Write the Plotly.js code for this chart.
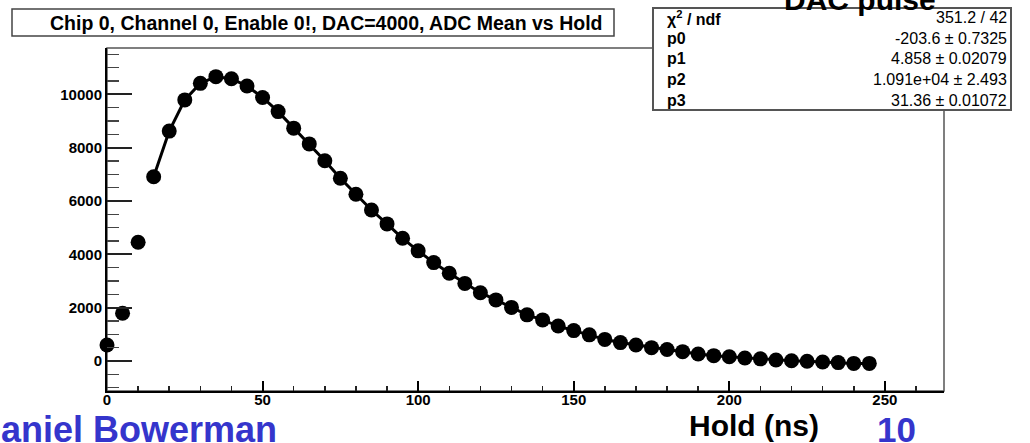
<!DOCTYPE html>
<html>
<head>
<meta charset="utf-8">
<script src="https://cdn.plot.ly/plotly-3.0.1.min.js"></script>
<style>html,body{margin:0;padding:0;background:#fff;}#chart{width:1030px;height:443px;}</style>
</head>
<body>
<div id="chart"></div>
<script>
// ---- data ----
const holdNs = [0,5,10,15,20,25,30,35,40,45,50,55,60,65,70,75,80,85,90,95,100,105,110,115,120,125,130,135,140,145,150,155,160,165,170,175,180,185,190,195,200,205,210,215,220,225,230,235,240,245];
const adcMean = [600,1790,4450,6910,8620,9790,10410,10660,10580,10310,9880,9350,8730,8140,7510,6850,6250,5660,5140,4600,4130,3690,3290,2910,2560,2290,2010,1730,1540,1310,1140,980,810,690,600,500,430,350,260,200,160,110,80,40,10,-10,-40,-60,-90,-90];
const fitStartIndex = 3; // fit curve drawn from Hold = 15 ns
const yTickVals = [0,2000,4000,6000,8000,10000];
const xTickVals = [0,50,100,150,200,250];
const titleText = "Chip 0, Channel 0, Enable 0!, DAC=4000, ADC Mean vs Hold";
const statLabels = ["χ<sup>2</sup> / ndf","p0","p1","p2","p3"];
const statValues = ["351.2 / 42","-203.6 ± 0.7325","4.858 ± 0.02079","1.091e+04 ± 2.493","31.36 ± 0.01072"];

// ---- geometry helpers (pixel -> paper) ----
const L=107, R=944, T=48, B=391, W=R-L, H=B-T;
const px = v => (v-L)/W;
const py = v => (B-v)/H;
const FONT = "Liberation Sans, Arial, Helvetica, sans-serif";

const fitTrace = {
  x: holdNs.slice(fitStartIndex), y: adcMean.slice(fitStartIndex),
  mode: 'lines', type: 'scatter', line: {color:'#000', width:3}, hoverinfo:'skip'
};
const ptsTrace = {
  x: holdNs, y: adcMean, mode: 'markers', type: 'scatter', cliponaxis:false,
  marker: {color:'#000', size:15, symbol:'circle'}
};

const annotations = [];
annotations.push({xref:'paper', yref:'paper', x:px(326), y:py(23), xanchor:'center', yanchor:'middle',
  text:titleText, showarrow:false, font:{family:FONT, size:19.5, color:'#000', weight:'bold'}});
const rowY = [18, 38.5, 59, 79.5, 100];
statLabels.forEach((s,i)=>{
  annotations.push({xref:'paper', yref:'paper', x:px(665), y:py(rowY[i]), xanchor:'left', yanchor:'middle',
    text:s, showarrow:false, font:{family:FONT, size:16, color:'#000', weight:'bold'}});
  annotations.push({xref:'paper', yref:'paper', x:px(1009), y:py(rowY[i]), xanchor:'right', yanchor:'middle',
    text:statValues[i], showarrow:false, font:{family:FONT, size:16, color:'#000'}});
});
annotations.push({xref:'paper', yref:'paper', x:px(860), y:py(-1), xanchor:'center', yanchor:'middle',
  text:'DAC pulse', showarrow:false, font:{family:FONT, size:30, color:'#000', weight:'bold'}});
annotations.push({xref:'paper', yref:'paper', x:px(-27), y:py(429), xanchor:'left', yanchor:'middle',
  text:'Daniel Bowerman', showarrow:false, font:{family:FONT, size:36, color:'#3535cc', weight:'bold'}});
annotations.push({xref:'paper', yref:'paper', x:px(754), y:py(425), xanchor:'center', yanchor:'middle',
  text:'Hold (ns)', showarrow:false, font:{family:FONT, size:30, color:'#000', weight:'bold'}});
annotations.push({xref:'paper', yref:'paper', x:px(896), y:py(429), xanchor:'center', yanchor:'middle',
  text:'10', showarrow:false, font:{family:FONT, size:35, color:'#3535cc', weight:'bold'}});

const shapes = [
  {type:'rect', xref:'paper', yref:'paper', x0:0, x1:1, y0:0, y1:1, line:{color:'#555', width:1.5}, layer:'below'},
  // title box
  {type:'rect', xref:'paper', yref:'paper', x0:px(12), x1:px(614), y0:py(36), y1:py(9), line:{color:'#444', width:1.5}, fillcolor:'#fff'},
  // stats box
  {type:'rect', xref:'paper', yref:'paper', x0:px(653), x1:px(1011), y0:py(110), y1:py(8), line:{color:'#555', width:2}, fillcolor:'#fff', layer:'above'}
];

const layout = {
  width:1030, height:443, autosize:false,
  margin:{l:L, r:1030-R, t:T, b:443-B, pad:0},
  paper_bgcolor:'#fff', plot_bgcolor:'#fff', showlegend:false,
  xaxis:{range:[0,269], tickmode:'array', tickvals:xTickVals, ticktext:xTickVals.map(String),
    ticks:'inside', ticklen:10, tickwidth:2, tickcolor:'#000', ticklabelstandoff:-6,
    minor:{tick0:0, dtick:10, ticks:'inside', ticklen:5, tickwidth:1.5, tickcolor:'#222'},
    showgrid:false, zeroline:false, showline:true, linecolor:'#000', linewidth:2,
    tickfont:{family:FONT, size:15, color:'#000', weight:'bold'}, fixedrange:true},
  yaxis:{range:[-1125,11735], tickmode:'array', tickvals:yTickVals, ticktext:yTickVals.map(String),
    ticks:'inside', ticklen:25, tickwidth:2, tickcolor:'#222',
    minor:{tick0:0, dtick:500, ticks:'inside', ticklen:12, tickwidth:1.5, tickcolor:'#444'},
    showgrid:false, zeroline:false, showline:true, linecolor:'#000', linewidth:2,
    tickfont:{family:FONT, size:15, color:'#000', weight:'bold'}, fixedrange:true},
  annotations: annotations,
  shapes: shapes
};

Plotly.newPlot('chart', [fitTrace, ptsTrace], layout, {staticPlot:true, displayModeBar:false});
</script>
</body>
</html>
